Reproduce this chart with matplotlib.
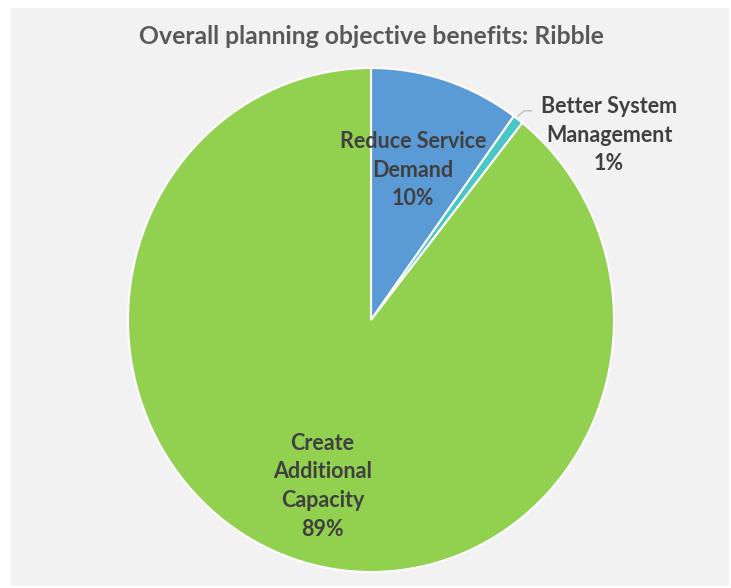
from matplotlib import pyplot as plt
from matplotlib.patches import Rectangle

# data
categories = ['Reduce Service\nDemand', 'Better System\nManagement', 'Create\nAdditional\nCapacity']
shares = [10.0, 0.7, 89.3]
colors = ['#5b9bd5', '#4bc6c6', '#92d050']
title = 'Overall planning objective benefits: Ribble'

W, H = 731, 588
fig = plt.figure(figsize=(W / 100, H / 100), dpi=100)
fig.patch.set_facecolor('white')

# light grey chart area
fig.patches.append(Rectangle((11 / W, 2 / H), 718 / W, 578 / H,
                             transform=fig.transFigure, facecolor='#f2f2f2',
                             edgecolor='none', zorder=-5))

font = ['Lato', 'DejaVu Sans']

# pie centred at (371, 320) px; the reference is slightly stretched vertically
cx, cy, rx, ry = 371, 320, 243, 252
ax = fig.add_axes([(cx - rx) / W, (H - cy - ry) / H, 2 * rx / W, 2 * ry / H])
ax.set_zorder(1)
ax.set_facecolor('none')
wedges, _ = ax.pie(shares, colors=colors, startangle=90, counterclock=False,
                   radius=1, wedgeprops=dict(edgecolor='white', linewidth=1.5))
ax.set_xlim(-1, 1)
ax.set_ylim(-1, 1)
ax.set_aspect('auto')
ax.axis('off')

# labels (category + rounded percent)
label_pos = [(0.173, 0.595), (0.98, 0.734), (-0.20, -0.66)]
for cat, val, (lx, ly) in zip(categories, shares, label_pos):
    ax.text(lx, ly, f'{cat}\n{round(val):.0f}%', ha='center', va='center',
            fontsize=15.5, fontweight='bold', color='#404040', family=font,
            linespacing=1.45, clip_on=False)

# leader line for the small slice
ax.plot([0.605, 0.632, 0.66], [0.81, 0.83, 0.83], color='#bfbfbf',
        linewidth=1, clip_on=False)

fig.text(cx / W, 1 - 37 / H, title, ha='center', va='center', fontsize=17.8,
         fontweight='bold', color='#595959', family=font)

fig.savefig('out.png', dpi=100)
